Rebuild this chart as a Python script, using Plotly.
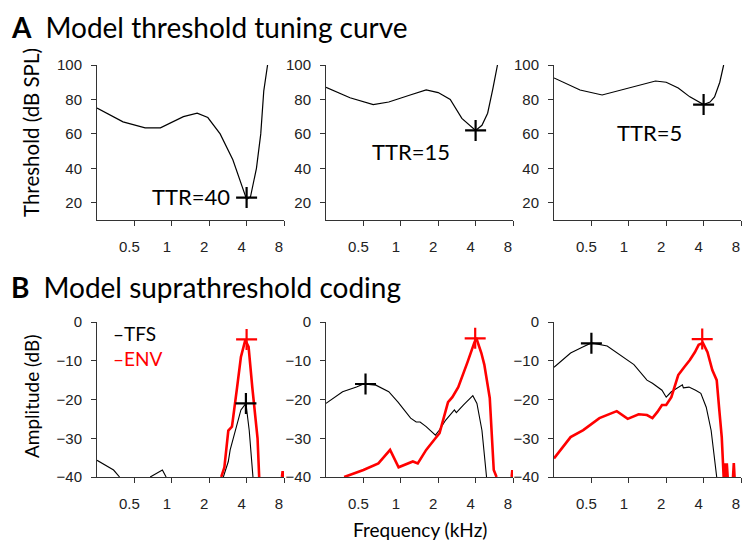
import math
import plotly.graph_objects as go

# ---------------- data ----------------
tick_freqs = [0.5, 1, 2, 4, 8]
tick_freq_labels = ["0.5", "1", "2", "4", "8"]
thr_ticks = [20, 40, 60, 80, 100]
amp_ticks = [0, -10, -20, -30, -40]

# Panel A: threshold tuning curves (kHz, dB SPL)
thrA_f = [0.25, 0.405, 0.61, 0.81, 1.24, 1.6, 1.95, 2.45, 3.1, 3.7, 4.0, 4.3, 4.8, 5.2, 5.5, 5.9]
thrA_y = [75, 67, 63.5, 63.5, 70, 72, 69.5, 60, 45, 29, 22, 23.5, 40, 60, 85, 100]
thrB_f = [0.25, 0.39, 0.6, 0.8, 1.19, 1.6, 2.0, 2.5, 3.1, 4.0, 4.5, 5.0, 5.5, 6.0]
thrB_y = [87, 81, 77, 78.5, 82.6, 85.5, 84, 80, 69, 62, 65, 72, 86, 100]
thrC_f = [0.25, 0.405, 0.61, 1.03, 1.64, 2.0, 2.5, 3.1, 4.0, 4.5, 4.9, 5.4, 5.8]
thrC_y = [92.5, 85.5, 82.6, 86.7, 90.7, 90, 86.7, 81.5, 77, 78.5, 81.5, 90, 100]
ttr_labels = ["TTR=40", "TTR=15", "TTR=5"]
ttr_pos_f = [1.43, 1.21, 1.46]
ttr_pos_y = [23.5, 49.6, 60.6]
cf_marker_f = [4.0, 4.0, 4.0]
cf_marker_y = [23, 62, 77]

# Panel B: suprathreshold coding (kHz, dB)
tfsA_f = [0.25, 0.34, 0.38, None, 0.67, 0.84, 0.9, None, 2.6, 2.75, 2.85, 2.95, 3.25, 3.6, 3.95, 4.2, 4.5]
tfsA_y = [-35.7, -38.2, -40, None, -40, -38.2, -40, None, -40, -37.5, -36, -33, -28, -22.7, -21, -28, -40]
envA_f = [2.5, 2.65, 2.85, 3.05, 3.35, 3.6, 3.9, 4.15, 4.45, 4.9, 5.05, None, 7.7, 7.8, 7.9]
envA_y = [-40, -37.5, -28, -27, -17, -9, -4.7, -6.4, -17, -30, -40, None, -40, -38.5, -40]

tfsB_f = [0.25, 0.34, 0.44, 0.5, 0.63, 0.8, 0.95, 1.2, 1.33, 1.43, 1.6, 1.9, 2.03, 2.3, 2.7, 2.8, 3.2, 3.8, 4.1, 4.5, 4.9]
tfsB_y = [-21, -18, -16.8, -16, -16.3, -18, -20.7, -24.8, -25.8, -25.8, -27, -29.2, -28, -25.3, -22.7, -23.4, -21.4, -19, -21, -28, -40]
envB_f = [0.35, 0.5, 0.66, 0.82, 0.96, 1.25, 1.37, 1.6, 1.9, 2.05, 2.4, 2.6, 2.9, 3.1, 3.45, 3.9, 4.05, 4.45, 4.7, 5.2, 5.6, 5.9, None, 7.8, 7.9, 8.0]
envB_y = [-40, -38.2, -36.5, -33, -37.5, -36, -36.5, -33, -30, -28.7, -20.7, -19.4, -16.8, -14.5, -10.3, -5.4, -4.1, -8, -11, -19.6, -38.2, -40, None, -40, -38.2, -40]

tfsC_f = [0.25, 0.34, 0.43, 0.5, 0.67, 0.85, 1.1, 1.4, 1.55, 1.85, 2.0, 2.2, 2.7, 2.75, 3.05, 3.45, 3.8, 4.2, 4.6, 5.1]
tfsC_y = [-11.7, -8, -6.4, -5.4, -6.2, -8.5, -11, -15, -15.8, -17.6, -19.4, -18, -16.2, -17, -16.8, -17.6, -18.4, -22, -28, -40]
envC_f = [0.25, 0.34, 0.43, 0.58, 0.8, 0.98, 1.2, 1.4, 1.55, 1.7, 1.85, 2.0, 2.2, 2.5, 2.8, 3.1, 3.4, 3.65, 3.95, 4.3, 4.7, 5.1, 5.35, 5.6, 5.8, 5.95, 6.05, 6.15, 6.25, None, 6.9, 7.0, 7.1]
envC_y = [-35.2, -29.7, -27.9, -24.8, -23, -25, -23.8, -24, -24.8, -23.2, -21.4, -21.4, -19.4, -13.7, -11.6, -9.8, -7.8, -5.9, -5.4, -7.8, -12.4, -15, -22.7, -29.7, -40, -36.5, -40, -36.5, -40, None, -40, -36.4, -40]

tfs_peak_f = [3.95, 0.52, 0.5]
tfs_peak_y = [-21, -16, -5.5]
env_peak_f = [4.0, 3.97, 3.9]
env_peak_y = [-4.5, -4.2, -4.4]

# ---------------- figure ----------------
W, H = 742, 542
col_px = [(97, 284), (326, 513), (554, 741)]
top_px = (65, 220)     # pixel rows (top, bottom) of panel A plots
bot_px = (322, 477)    # pixel rows of panel B plots

def xdom(i):
    return [col_px[i][0] / W, col_px[i][1] / W]

def ydom(p):
    return [1 - p[1] / H, 1 - p[0] / H]

tick_font = dict(family="Liberation Sans, Arial", size=15, color="#222")
axis_common = dict(showline=True, linecolor="#333", linewidth=1, ticks="outside",
                   ticklen=5, tickwidth=1, tickcolor="#333", showgrid=False,
                   zeroline=False, tickfont=tick_font, fixedrange=True,
                   automargin=False, ticklabeloverflow="allow")

fig = go.Figure()
layout = dict(width=W, height=H, margin=dict(l=0, r=0, t=0, b=0, autoexpand=False),
              paper_bgcolor="white", plot_bgcolor="white", showlegend=False)

for k in range(6):
    row, col = divmod(k, 3)
    xa = "xaxis" if k == 0 else f"xaxis{k+1}"
    ya = "yaxis" if k == 0 else f"yaxis{k+1}"
    yref = "y" if k == 0 else f"y{k+1}"
    xref = "x" if k == 0 else f"x{k+1}"
    layout[xa] = dict(axis_common, type="log", range=[math.log10(0.25), math.log10(8)],
                      domain=xdom(col), anchor=yref, tickvals=tick_freqs,
                      ticktext=tick_freq_labels, ticklabelstandoff=8,
                      ticklabelshift=-5)
    if row == 0:
        layout[ya] = dict(axis_common, range=[10, 100], domain=ydom(top_px), anchor=xref,
                          tickvals=thr_ticks, ticklabelstandoff=6)
    else:
        layout[ya] = dict(axis_common, range=[-40, 0], domain=ydom(bot_px), anchor=xref,
                          tickvals=amp_ticks, ticklabelstandoff=6)

fig.update_layout(**layout)

def axes(k):
    return ("x" if k == 0 else f"x{k+1}", "y" if k == 0 else f"y{k+1}")

thr_f = [thrA_f, thrB_f, thrC_f]
thr_y = [thrA_y, thrB_y, thrC_y]
for i in range(3):
    xr, yr = axes(i)
    fig.add_trace(go.Scatter(x=thr_f[i], y=thr_y[i], mode="lines", xaxis=xr, yaxis=yr,
                             line=dict(color="black", width=1.2), hoverinfo="skip"))
    fig.add_trace(go.Scatter(x=[cf_marker_f[i]], y=[cf_marker_y[i]], mode="markers",
                             xaxis=xr, yaxis=yr, cliponaxis=False,
                             marker=dict(symbol="cross-thin", size=15,
                                         line=dict(color="black", width=2.2))))
    fig.add_annotation(x=math.log10(ttr_pos_f[i]), y=ttr_pos_y[i], xref=xr, yref=yr,
                       xanchor="center", yanchor="middle",
                       text=ttr_labels[i], showarrow=False,
                       font=dict(family="Lato", size=22, color="black"))

tfs_f = [tfsA_f, tfsB_f, tfsC_f]
tfs_y = [tfsA_y, tfsB_y, tfsC_y]
env_f = [envA_f, envB_f, envC_f]
env_y = [envA_y, envB_y, envC_y]
for i in range(3):
    xr, yr = axes(i + 3)
    fig.add_trace(go.Scatter(x=tfs_f[i], y=tfs_y[i], mode="lines", xaxis=xr, yaxis=yr,
                             line=dict(color="black", width=1.1), connectgaps=False,
                             hoverinfo="skip"))
    fig.add_trace(go.Scatter(x=env_f[i], y=env_y[i], mode="lines", xaxis=xr, yaxis=yr,
                             line=dict(color="#ff0000", width=2.6), connectgaps=False,
                             hoverinfo="skip"))
    fig.add_trace(go.Scatter(x=[tfs_peak_f[i]], y=[tfs_peak_y[i]], mode="markers",
                             xaxis=xr, yaxis=yr, cliponaxis=False,
                             marker=dict(symbol="cross-thin", size=15,
                                         line=dict(color="black", width=2.2))))
    fig.add_trace(go.Scatter(x=[env_peak_f[i]], y=[env_peak_y[i]], mode="markers",
                             xaxis=xr, yaxis=yr, cliponaxis=False,
                             marker=dict(symbol="cross-thin", size=15,
                                         line=dict(color="#ff0000", width=2.2))))

title_font = dict(family="Lato", size=28, color="black")
fig.add_annotation(x=9 / W, y=1 - 27 / H, xref="paper", yref="paper", xanchor="left",
                   yanchor="middle", showarrow=False,
                   text="<b>A</b>\u2002Model threshold tuning curve",
                   font=title_font)
fig.add_annotation(x=9 / W, y=1 - 287 / H, xref="paper", yref="paper", xanchor="left",
                   yanchor="middle", showarrow=False,
                   text="<b>B</b>\u2002Model suprathreshold coding",
                   font=title_font)

fig.add_annotation(x=31 / W, y=1 - 133 / H, xref="paper", yref="paper", textangle=-90,
                   xanchor="center", yanchor="middle",
                   showarrow=False, text="Threshold (dB SPL)",
                   font=dict(family="Lato", size=20.5, color="black"))
fig.add_annotation(x=31 / W, y=1 - 397 / H, xref="paper", yref="paper", textangle=-90,
                   xanchor="center", yanchor="middle",
                   showarrow=False, text="Amplitude (dB)",
                   font=dict(family="Lato", size=19, color="black"))
fig.add_annotation(x=420 / W, y=1 - 529 / H, xref="paper", yref="paper",
                   xanchor="center", yanchor="middle",
                   showarrow=False, text="Frequency (kHz)",
                   font=dict(family="Lato", size=19, color="black"))

# legend (panel B, left)
fig.add_annotation(x=111 / W, y=1 - 333 / H, xref="paper", yref="paper", xanchor="left",
                   yanchor="middle", showarrow=False, text="\u2013TFS",
                   font=dict(family="Lato", size=19, color="black"))
fig.add_annotation(x=111 / W, y=1 - 358 / H, xref="paper", yref="paper", xanchor="left",
                   yanchor="middle", showarrow=False, text="\u2013ENV",
                   font=dict(family="Lato", size=19, color="#ff0000"))

fig.write_html("out.html", config={"displayModeBar": False},
               post_script="document.body.style.margin='0';document.body.style.overflow='hidden';")
